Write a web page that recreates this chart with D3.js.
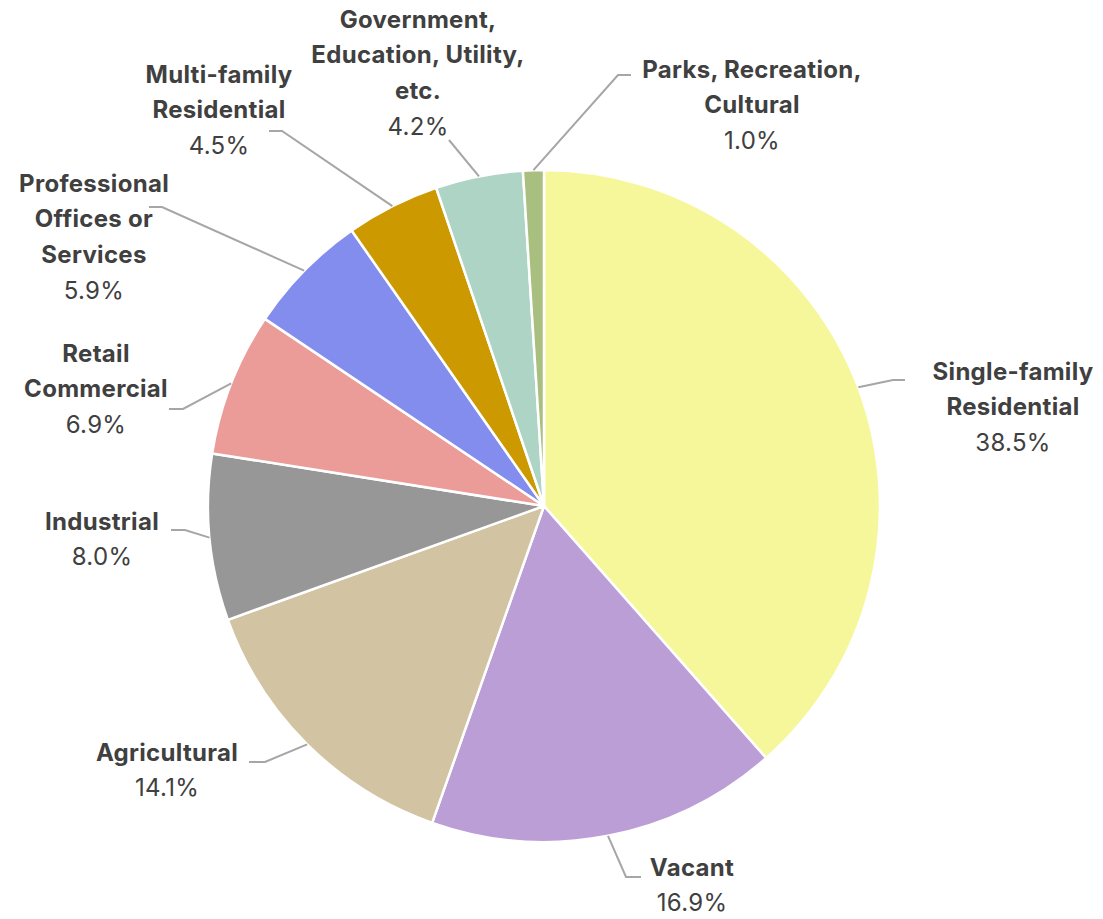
<!DOCTYPE html>
<html>
<head>
<meta charset="utf-8">
<script src="https://cdn.jsdelivr.net/npm/d3@7"></script>
<style>
  body { margin: 0; background: #fff; }
  svg text { font-family: Inter, "Open Sans", sans-serif; fill: #404040; }
</style>
</head>
<body>
<div id="chart"></div>
<script>
// Land use shares, clockwise from 12 o'clock
var categories = [
  ['Single-family', 'Residential'],
  ['Vacant'],
  ['Agricultural'],
  ['Industrial'],
  ['Retail', 'Commercial'],
  ['Professional', 'Offices or', 'Services'],
  ['Multi-family', 'Residential'],
  ['Government,', 'Education, Utility,', 'etc.'],
  ['Parks, Recreation,', 'Cultural']
];
var shares = [38.5, 16.9, 14.1, 8.0, 6.9, 5.9, 4.5, 4.2, 1.0];
var colors = ['#F6F79B', '#BB9ED6', '#D2C4A2', '#979797', '#EC9C98',
              '#838DEE', '#CC9900', '#AED4C5', '#A9BF7F'];

// label placement: text centre x, first-line y, elbow point, end of horizontal stub
var labelLayout = [
  {x: 1013, y: 373, elbow: [893, 380], end: 905},
  {x: 692,  y: 869, elbow: [626, 877], end: 641},
  {x: 167,  y: 754, elbow: [265, 762], end: 249},
  {x: 102,  y: 523, elbow: [185, 530], end: 171},
  {x: 96,   y: 355, elbow: [183, 409], end: 169},
  {x: 94,   y: 185, elbow: [162, 207], end: 149},
  {x: 219,  y: 76,  elbow: [282, 131], end: 269},
  {x: 418,  y: 21,  elbow: [449, 140], end: 449},
  {x: 752,  y: 71,  elbow: [618, 75],  end: 631}
];

var width = 1103, height = 919,
    cx = 544, cy = 506, radius = 336,
    lineH = 35.7;

var svg = d3.select('#chart').append('svg')
  .attr('width', width)
  .attr('height', height);

var pie = d3.pie().sort(null).value(function(d) { return d; });
var arcs = pie(shares);
var arc = d3.arc().innerRadius(0).outerRadius(radius);

var g = svg.append('g').attr('transform', 'translate(' + cx + ',' + cy + ')');

g.selectAll('path.slice')
  .data(arcs)
  .enter().append('path')
    .attr('class', 'slice')
    .attr('d', arc)
    .style('fill', function(d, i) { return colors[i]; })
    .style('stroke', '#fff')
    .style('stroke-width', 2.5)
    .style('stroke-linejoin', 'round');

// Leader lines from slice edge (mid-angle) to label
svg.selectAll('polyline.leader')
  .data(arcs)
  .enter().append('polyline')
    .attr('class', 'leader')
    .attr('points', function(d, i) {
      var a = (d.startAngle + d.endAngle) / 2,
          sx = cx + radius * Math.sin(a),
          sy = cy - radius * Math.cos(a),
          L = labelLayout[i];
      return [[sx, sy], L.elbow, [L.end, L.elbow[1]]].join(' ');
    })
    .style('fill', 'none')
    .style('stroke', '#A6A6A6')
    .style('stroke-width', 2);

// Labels
var labels = svg.selectAll('g.label')
  .data(arcs)
  .enter().append('g')
    .attr('class', 'label');

labels.each(function(d, i) {
  var L = labelLayout[i],
      sel = d3.select(this),
      lines = categories[i];
  lines.forEach(function(t, k) {
    sel.append('text')
      .attr('x', L.x)
      .attr('y', L.y + k * lineH)
      .attr('text-anchor', 'middle')
      .attr('dominant-baseline', 'middle')
      .style('font-size', '24px')
      .style('font-weight', 700)
      .style('letter-spacing', '0.3px')
      .text(t);
  });
  sel.append('text')
    .attr('x', L.x)
    .attr('y', L.y + lines.length * lineH)
    .attr('text-anchor', 'middle')
    .attr('dominant-baseline', 'middle')
    .style('font-size', '24px')
    .style('letter-spacing', '0.3px')
    .text(d3.format('.1f')(shares[i]) + '%');
});
</script>
</body>
</html>
